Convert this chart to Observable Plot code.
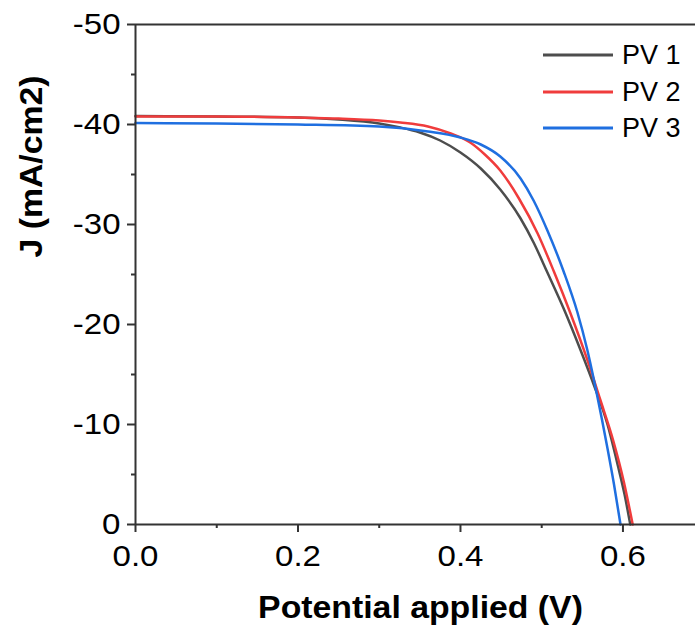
<!DOCTYPE html>
<html><head><meta charset="utf-8">
<script src="https://cdn.jsdelivr.net/npm/d3@7"></script>
<script src="https://cdn.jsdelivr.net/npm/@observablehq/plot@0.6"></script>
<style>
body{margin:0;background:#fff;}
#wrap{position:relative;width:695px;height:635px;font-family:"Liberation Sans",Arial,sans-serif;}
.legrow{position:absolute;left:543px;height:30px;display:flex;align-items:center;}
.legrow span{margin-left:9px;font-size:27px;color:#000;line-height:30px;}
</style></head><body><div id="wrap"></div>
<script>
const seriesNames = ["PV 1", "PV 2", "PV 3"];
const seriesColors = ["#4d4d4d", "#f03c3c", "#1f6fe0"];

const pv1V = [0, 0.1, 0.2, 0.25, 0.3, 0.326, 0.35, 0.375, 0.40, 0.425, 0.449, 0.474, 0.49, 0.507, 0.527, 0.548, 0.564, 0.581, 0.594, 0.602, 0.609];
const pv1J = [-40.85, -40.8, -40.7, -40.5, -40.1, -39.7, -39.2, -38.4, -37.2, -35.6, -33.5, -30.6, -28.2, -25.2, -21.6, -17.4, -14.0, -10.0, -5.8, -3.0, 0];

const pv2V = [0, 0.1, 0.2, 0.25, 0.3, 0.326, 0.36, 0.388, 0.412, 0.43, 0.449, 0.472, 0.495, 0.515, 0.535, 0.556, 0.572, 0.588, 0.601, 0.612];
const pv2J = [-40.8, -40.8, -40.7, -40.6, -40.4, -40.2, -39.8, -39.1, -38.2, -37.0, -35.4, -32.6, -29.1, -25.3, -21.2, -16.5, -12.5, -8.4, -4.3, 0];

const pv3V = [0, 0.1, 0.2, 0.3, 0.36, 0.40, 0.425, 0.449, 0.474, 0.49, 0.507, 0.527, 0.544, 0.556, 0.568, 0.581, 0.589, 0.597];
const pv3J = [-40.15, -40.1, -40.0, -39.8, -39.3, -38.7, -38.0, -36.8, -34.6, -32.4, -29.4, -25.3, -21.2, -17.5, -13.0, -7.6, -4.0, 0];

const xMajorTicks = [0, 0.2, 0.4, 0.6];
const xMinorTicks = [0.1, 0.3, 0.5];
const yMajorTicks = [0, -10, -20, -30, -40, -50];
const yMinorTicks = [-5, -15, -25, -35, -45];
const xLabel = "Potential applied (V)";
const yLabel = "J (mA/cm2)";

const allV = [pv1V, pv2V, pv3V];
const allJ = [pv1J, pv2J, pv3J];
const rows = [];
seriesNames.forEach((s, i) => allV[i].forEach((v, k) => rows.push({V: v, J: allJ[i][k], series: s})));

const axisColor = "#333";
const chart = Plot.plot({
  width: 695, height: 635,
  marginLeft: 135, marginRight: 0, marginTop: 24, marginBottom: 111,
  style: {fontFamily: "Liberation Sans, Arial, sans-serif", fontSize: "30px", color: "#000", background: "#fff", overflow: "visible"},
  x: {domain: [0, 0.6893]},
  y: {domain: [0, -50]},
  color: {domain: seriesNames, range: seriesColors},
  marks: [
    Plot.line(rows, {x: "V", y: "J", z: "series", stroke: "series", strokeWidth: 2.5, curve: "monotone-x"}),
    Plot.ruleY([0], {stroke: axisColor, strokeWidth: 2}),
    Plot.ruleY([-50], {stroke: axisColor, strokeWidth: 2}),
    Plot.ruleX([0], {stroke: axisColor, strokeWidth: 2}),
    Plot.axisX({ticks: xMajorTicks, tickSize: 8, tickPadding: 12, tickFormat: d => d.toFixed(1), label: null, stroke: axisColor, strokeWidth: 2, fontSize: 30, className: "stretch-tick"}),
    Plot.axisX({ticks: xMinorTicks, tickSize: 4, tickFormat: () => "", label: null, stroke: axisColor, strokeWidth: 2}),
    Plot.axisY({ticks: yMajorTicks, tickSize: 8, tickPadding: 7, tickFormat: d => String(d), label: null, stroke: axisColor, strokeWidth: 2, fontSize: 30, className: "stretch-tick"}),
    Plot.axisY({ticks: yMinorTicks, tickSize: 4, tickFormat: () => "", label: null, stroke: axisColor, strokeWidth: 2}),
    Plot.text([xLabel], {text: d => d, frameAnchor: "bottom", dy: 84, dx: 5, lineAnchor: "middle", fontSize: 31, fontWeight: "bold", fill: "#000", className: "stretch-label"}),
    Plot.text([yLabel], {text: d => d, frameAnchor: "left", dx: -103, dy: -17, rotate: -90, lineAnchor: "middle", fontSize: 31, fontWeight: "bold", fill: "#000", className: "stretch-label"})
  ]
});
const wrap = document.getElementById("wrap");
wrap.appendChild(chart);

// widen the text glyphs slightly, as in the reference rendering
function stretch(sel, f) {
  chart.querySelectorAll(sel).forEach(el => {
    if (!el.textContent) return;
    const w = el.getComputedTextLength();
    if (w > 0) {
      el.setAttribute("textLength", (w * f).toFixed(1));
      el.setAttribute("lengthAdjust", "spacingAndGlyphs");
    }
  });
}
stretch(".stretch-tick text", 1.1);
stretch(".stretch-label text", 1.09);

const legTops = [55, 91.5, 128];
seriesNames.forEach((s, i) => {
  const row = document.createElement("div");
  row.className = "legrow";
  row.style.top = (legTops[i] - 15) + "px";
  row.innerHTML = `<svg width="70" height="6"><line x1="0" x2="70" y1="3" y2="3" stroke="${seriesColors[i]}" stroke-width="3"/></svg><span>${s}</span>`;
  wrap.appendChild(row);
});
</script>
</body></html>
